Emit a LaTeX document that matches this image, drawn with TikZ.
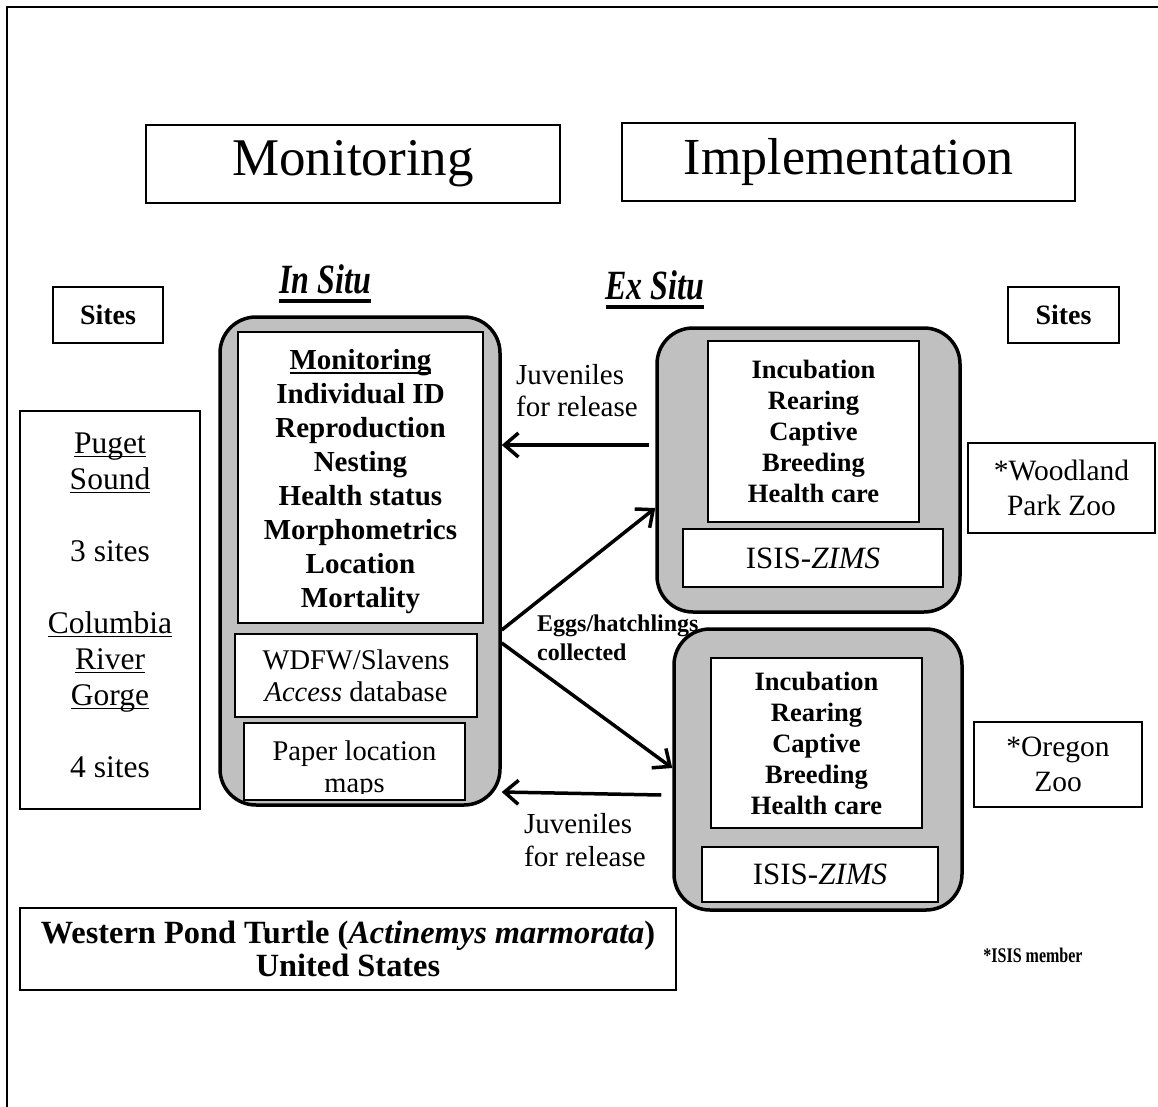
\documentclass[tikz,border=0pt]{standalone}
\usepackage{fontspec}
\setmainfont{Liberation Serif}
\usepackage{graphicx}
\usetikzlibrary{arrows.meta}
\definecolor{boxgray}{HTML}{C0C0C0}
\newcommand\fs[2]{\fontsize{#1}{#2}\selectfont}
\newcommand\ulx[3]{\setbox0\hbox{#3}\rlap{\rule[-#2]{\wd0}{#1}}\box0}
\newcommand\ulin[1]{\ulx{1.6pt}{4pt}{#1}}
\begin{document}
\begin{tikzpicture}[x=1pt,y=-1pt,
  plainbox/.style={draw, line width=1.2pt, fill=white, inner sep=0pt, align=center},
  sitebox/.style={plainbox, line width=2pt},
  roundbox/.style={draw, line width=3.5pt, fill=boxgray, rounded corners=36pt, inner sep=0pt},
  lbl/.style={inner sep=0pt, align=left},
  arr/.style={line width=3.5pt, -{Straight Barb[length=14pt,width=24pt]}}]
\useasboundingbox (0,0) rectangle (1158,1107);
% frame
\draw[line width=2.5pt] (1158,7) -- (7,7) -- (7,1107);
% headers
\node[plainbox, minimum width=414pt, minimum height=78pt, font=\fs{53}{60}] (mon) at (353,164) {Monitoring};
\node[plainbox, minimum width=453pt, minimum height=78pt, font=\fs{52}{60}] (impl) at (848.5,162) {Implementation};
\node[anchor=base, inner sep=0pt, font=\fs{32}{36}\bfseries\itshape] (insituT) at (325,293) {\ulx{4.5pt}{10pt}{\scalebox{1}[1.3]{In Situ}}};
\node[anchor=base, inner sep=0pt, font=\fs{32}{36}\bfseries\itshape] (exsituT) at (655,299) {\ulx{4.5pt}{10pt}{\scalebox{1}[1.3]{Ex Situ}}};
% sites
\node[sitebox, minimum width=110pt, minimum height=56pt, font=\fs{28}{30}\bfseries] (sitesL) at (108,315) {Sites};
\node[sitebox, minimum width=111pt, minimum height=56pt, font=\fs{28}{30}\bfseries] (sitesR) at (1063.5,315) {Sites};
\node[plainbox, minimum width=180pt, minimum height=398pt] (sitelist) at (110,610) {};
\node[lbl, align=center, font=\fs{31.5}{36}] (sitelistT) at (110,605)
  {\ulin{Puget}\\\ulin{Sound}\\\mbox{}\\3 sites\\\mbox{}\\\ulin{Columbia}\\\ulin{River}\\\ulin{Gorge}\\\mbox{}\\4 sites};
% in situ
\node[roundbox, minimum width=280pt, minimum height=488pt] (insitu) at (360,561) {};
\node[plainbox, minimum width=245pt, minimum height=291pt] (ib1) at (360.5,477.5) {};
\node[lbl, align=center, font=\fs{29}{34}\bfseries] (ib1t) at (360.5,482)
  {\ulin{Monitoring}\\Individual ID\\Reproduction\\Nesting\\Health status\\Morphometrics\\Location\\Mortality};
\node[plainbox, minimum width=242pt, minimum height=83pt, font=\fs{28.5}{32}] (ib2) at (356,675.5)
  {WDFW/Slavens\\\textit{Access} database};
\node[plainbox, minimum width=221pt, minimum height=77pt] (ib3) at (354.5,761.5) {};
\begin{scope}
\clip (244,723) rectangle (465,793);
\node[lbl, align=center, font=\fs{28.5}{32}] (ib3t) at (354.5,770) {Paper location\\maps};
\end{scope}
% ex situ top
\node[roundbox, minimum width=303pt, minimum height=284pt] (exA) at (808.5,470) {};
\node[plainbox, minimum width=211pt, minimum height=181pt, font=\fs{26.5}{31}\bfseries] (exA1) at (813.5,431.5)
  {Incubation\\Rearing\\Captive\\Breeding\\Health care};
\node[plainbox, minimum width=260pt, minimum height=58pt, font=\fs{31}{34}] (exA2) at (813,558) {ISIS-\textit{ZIMS}};
% ex situ bottom
\node[roundbox, minimum width=288pt, minimum height=281pt] (exB) at (818,769.5) {};
\node[plainbox, minimum width=211pt, minimum height=170pt, font=\fs{26.5}{31}\bfseries] (exB1) at (816.5,743)
  {Incubation\\Rearing\\Captive\\Breeding\\Health care};
\node[plainbox, minimum width=236pt, minimum height=55pt, font=\fs{31}{34}] (exB2) at (820,874.5) {ISIS-\textit{ZIMS}};
% zoos
\node[plainbox, minimum width=187pt, minimum height=90pt, font=\fs{29.5}{35}] (wpz) at (1061.5,488) {*Woodland\\Park Zoo};
\node[plainbox, minimum width=168pt, minimum height=85pt, font=\fs{29.5}{35}] (oz) at (1058,764.5) {*Oregon\\Zoo};
% bottom title
\node[plainbox, minimum width=656pt, minimum height=82pt, font=\fs{32.4}{33}\bfseries] (title) at (348,949)
  {Western Pond Turtle (\textit{Actinemys marmorata})\\United States};
\node[inner sep=0pt, font=\fs{16}{18}\bfseries] (isis) at (1033,955) {\scalebox{1}[1.3]{*ISIS member}};
% labels
\node[lbl, anchor=west, font=\fs{29}{32}] (juv1) at (516,391) {Juveniles\\for release};
\node[lbl, anchor=west, font=\fs{29}{33}] (juv2) at (524,840) {Juveniles\\for release};
\node[lbl, anchor=west, font=\fs{24}{29}\bfseries] (eggs) at (537,638) {Eggs/hatchlings\\collected};
% arrows
\draw[arr] (exA.west |- 0,445) ++(-6,0) -- (insitu.east |- 0,445);
\draw[arr] (insitu.east |- 0,630) -- (exA.west |- 0,508);
\draw[arr] (insitu.east |- 0,643) -- (exB.west |- 0,768);
\draw[arr] (exB.west |- 0,795) ++(-11,0) -- (insitu.east |- 0,792);
\end{tikzpicture}
\end{document}
